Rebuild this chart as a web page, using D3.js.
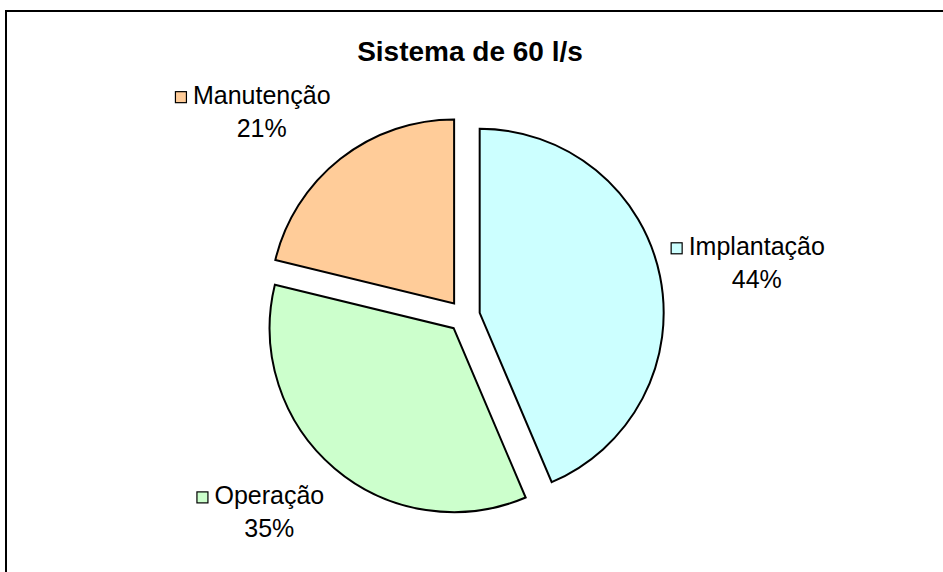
<!DOCTYPE html>
<html>
<head>
<meta charset="utf-8">
<script src="https://cdn.jsdelivr.net/npm/d3@7"></script>
<style>
  body { margin: 0; background: #fff; }
  text { font-family: "Liberation Sans", Arial, sans-serif; fill: #000; }
</style>
</head>
<body>
<script>
var categories = ["Implantação", "Operação", "Manutenção"];
var values = [43.6, 35.2, 21.2];
var colors = ["#CCFFFF", "#CCFFCC", "#FFCC99"];
var title = "Sistema de 60 l/s";

var width = 943, height = 572;
var cx = 464, cy = 316,
    radius = 184,
    explode = 16,
    labelRadius = 216;

var svg = d3.select("body").append("svg")
  .attr("width", width)
  .attr("height", height);

// chart area border (runs off the right and bottom of the picture)
svg.append("rect")
  .attr("x", 6).attr("y", 11)
  .attr("width", 2000).attr("height", 2000)
  .attr("fill", "none")
  .attr("stroke", "#000")
  .attr("stroke-width", 2);

svg.append("text")
  .attr("x", 470)
  .attr("y", 61)
  .attr("text-anchor", "middle")
  .attr("font-size", 28)
  .attr("font-weight", "bold")
  .text(title);

var total = d3.sum(values);
var fmtPct = d3.format(".0%");

var pie = d3.pie().sort(null).value(function (d) { return d; });
var arcs = pie(values);

var arc = d3.arc().innerRadius(0).outerRadius(radius);

function midDir(d) {
  var a = (d.startAngle + d.endAngle) / 2;
  return [Math.sin(a), -Math.cos(a)];
}

var g = svg.append("g")
  .attr("transform", "translate(" + cx + "," + cy + ")");

g.selectAll("path.slice")
  .data(arcs)
  .enter().append("path")
  .attr("class", "slice")
  .attr("transform", function (d) {
    var m = midDir(d);
    return "translate(" + (m[0] * explode) + "," + (m[1] * explode) + ")";
  })
  .attr("d", arc)
  .attr("fill", function (d, i) { return colors[i]; })
  .attr("stroke", "#000")
  .attr("stroke-width", 2)
  .attr("stroke-linejoin", "miter");

// labels: legend key + category, percentage centered under the category
var keySize = 11, keyGap = 7, lineH = 33, fontSize = 25, base = 24;

arcs.forEach(function (d, i) {
  var lg = g.append("g");
  var t1 = lg.append("text")
    .attr("font-size", fontSize)
    .attr("x", keySize + keyGap)
    .attr("y", base)
    .text(categories[i]);
  var tw = t1.node().getComputedTextLength();
  lg.append("rect")
    .attr("x", 0.5).attr("y", base - 12.5)
    .attr("width", keySize).attr("height", keySize)
    .attr("fill", colors[i])
    .attr("stroke", "#000")
    .attr("stroke-width", 1.2);
  lg.append("text")
    .attr("font-size", fontSize)
    .attr("text-anchor", "middle")
    .attr("x", keySize + keyGap + tw / 2)
    .attr("y", base + lineH)
    .text(fmtPct(d.value / total));

  var w = keySize + keyGap + tw, h = 66;
  var m = midDir(d);
  var ax = m[0] * labelRadius, ay = m[1] * labelRadius;
  var left = m[0] >= 0 ? ax - 5 : ax - w;
  var k = Math.min(1, Math.abs(m[1]) * 1.3) * (m[1] < 0 ? 1 : -1);
  var top = ay - h * (0.5 + 0.5 * k);
  lg.attr("transform", "translate(" + left + "," + top + ")");
});
</script>
</body>
</html>
